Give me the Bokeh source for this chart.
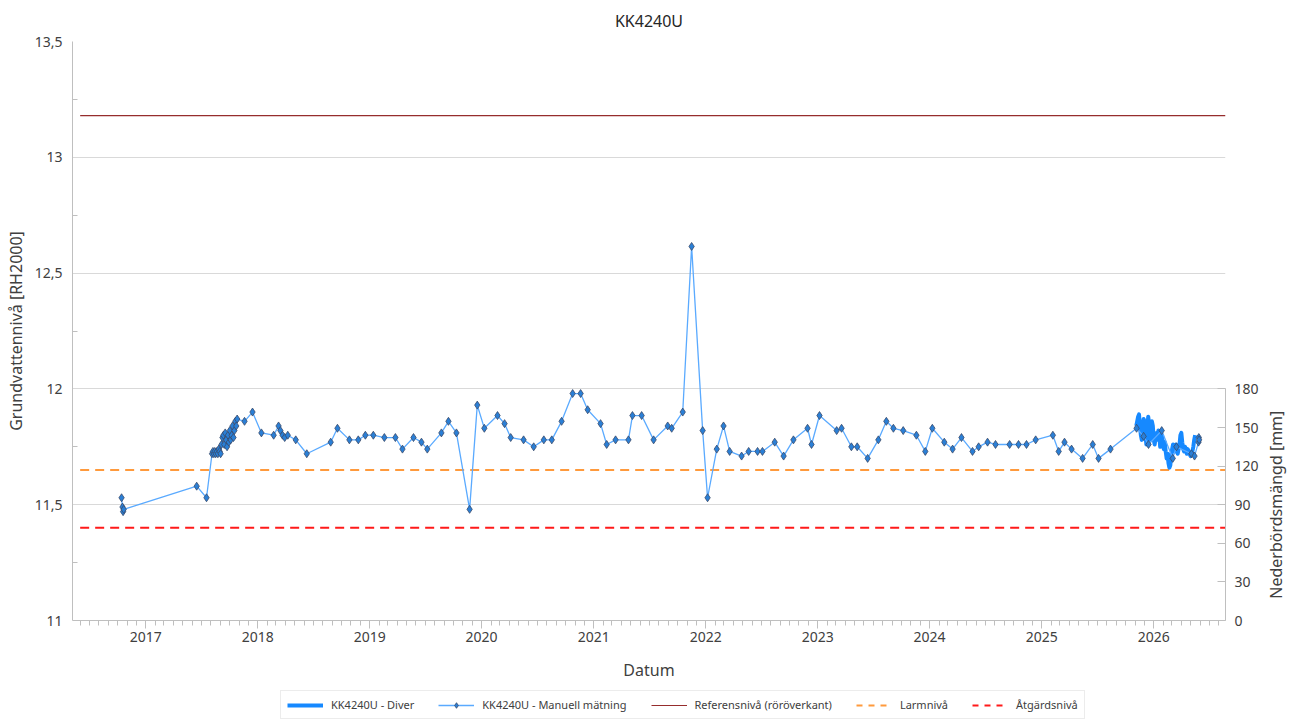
import math
import pandas as pd
from bokeh.plotting import figure
from bokeh.layouts import column, row
from bokeh.models import (Range1d, LinearAxis, FixedTicker, DatetimeTickFormatter,
                          Legend, LegendItem)
from bokeh.core.properties import value
from bokeh.embed import file_html
from bokeh.resources import INLINE

# ---------------- data ----------------
manual_dates = [
    "2016-10-14", "2016-10-17", "2016-10-19", "2016-10-21",
    "2017-06-16", "2017-07-18",
    "2017-08-05", "2017-08-08", "2017-08-11", "2017-08-14", "2017-08-17", "2017-08-21",
    "2017-08-24", "2017-08-27", "2017-08-30", "2017-09-02", "2017-09-05", "2017-09-08",
    "2017-09-11", "2017-09-14", "2017-09-17", "2017-09-20", "2017-09-23", "2017-09-26",
    "2017-09-29", "2017-10-02", "2017-10-05", "2017-10-08", "2017-10-11", "2017-10-14",
    "2017-10-17", "2017-10-20", "2017-10-23", "2017-10-26",
    "2017-11-19", "2017-12-15", "2018-01-13", "2018-02-22", "2018-03-10", "2018-03-16",
    "2018-03-23", "2018-03-30", "2018-04-09", "2018-05-05", "2018-06-10", "2018-08-27",
    "2018-09-18", "2018-10-27", "2018-11-25", "2018-12-18", "2019-01-13", "2019-02-18",
    "2019-03-26", "2019-04-18", "2019-05-24", "2019-06-19", "2019-07-08", "2019-08-23",
    "2019-09-15", "2019-10-11", "2019-11-23", "2019-12-18", "2020-01-10", "2020-02-22",
    "2020-03-16", "2020-04-05", "2020-05-17", "2020-06-19", "2020-07-22", "2020-08-17",
    "2020-09-18", "2020-10-24", "2020-11-19", "2020-12-12", "2021-01-23", "2021-02-12",
    "2021-03-13", "2021-04-24", "2021-05-07", "2021-06-06", "2021-07-15", "2021-08-30",
    "2021-09-12", "2021-10-18", "2021-11-16", "2021-12-22", "2022-01-07", "2022-02-06",
    "2022-02-28", "2022-03-20", "2022-04-28", "2022-05-21", "2022-06-19", "2022-07-05",
    "2022-08-14", "2022-09-12", "2022-10-14", "2022-11-29", "2022-12-12", "2023-01-07",
    "2023-03-04", "2023-03-20", "2023-04-21", "2023-05-10", "2023-06-13", "2023-07-18",
    "2023-08-13", "2023-09-05", "2023-10-07", "2023-11-19", "2023-12-18", "2024-01-10",
    "2024-02-18", "2024-03-16", "2024-04-14", "2024-05-20", "2024-06-09", "2024-07-08",
    "2024-08-03", "2024-09-18", "2024-10-17", "2024-11-12", "2024-12-12", "2025-02-06",
    "2025-02-25", "2025-03-16", "2025-04-08", "2025-05-14", "2025-06-16", "2025-07-05",
    "2025-08-13", "2025-11-06", "2025-11-29", "2025-12-15", "2026-01-27", "2026-03-04",
    "2026-03-16", "2026-05-04", "2026-05-14", "2026-05-27", "2026-05-28", "2026-05-29",
]
manual_levels = [
    11.53, 11.49, 11.47, 11.48,
    11.58, 11.53,
    11.72, 11.73, 11.72, 11.73, 11.72, 11.73,
    11.72, 11.74, 11.73, 11.72, 11.76, 11.79,
    11.80, 11.76, 11.81, 11.78, 11.75, 11.80,
    11.77, 11.82, 11.78, 11.80, 11.84, 11.79,
    11.82, 11.86, 11.84, 11.87,
    11.86, 11.90, 11.81, 11.80, 11.84, 11.82,
    11.80, 11.79, 11.80, 11.78, 11.72, 11.77,
    11.83, 11.78, 11.78, 11.80, 11.80, 11.79,
    11.79, 11.74, 11.79, 11.77, 11.74, 11.81,
    11.86, 11.81, 11.48, 11.93, 11.83, 11.885,
    11.85, 11.79, 11.78, 11.75, 11.78, 11.78,
    11.86, 11.98, 11.98, 11.91, 11.85, 11.76,
    11.78, 11.78, 11.885, 11.885, 11.78, 11.84,
    11.83, 11.90, 12.615, 11.82, 11.53, 11.74,
    11.84, 11.73, 11.71, 11.73, 11.73, 11.73,
    11.77, 11.71, 11.78, 11.83, 11.76, 11.885,
    11.82, 11.83, 11.75, 11.75, 11.70, 11.78,
    11.86, 11.83, 11.82, 11.80, 11.73, 11.83,
    11.77, 11.74, 11.79, 11.73, 11.75, 11.77,
    11.76, 11.76, 11.76, 11.76, 11.78, 11.80,
    11.73, 11.77, 11.74, 11.70, 11.76, 11.70,
    11.74, 11.83, 11.795, 11.76, 11.82, 11.70,
    11.75, 11.72, 11.71, 11.77, 11.79, 11.78,
]

diver_start = "2025-11-05"
diver_step = "3D"
diver_levels = [
    11.84, 11.86, 11.88, 11.89, 11.84, 11.80, 11.78, 11.82, 11.87, 11.86,
    11.80, 11.76, 11.83, 11.88, 11.85, 11.78, 11.80, 11.86, 11.84, 11.78,
    11.76, 11.79, 11.81, 11.78, 11.82, 11.80, 11.75, 11.77, 11.80, 11.76,
    11.74, 11.77, 11.73, 11.70, 11.72, 11.68, 11.66, 11.67, 11.71, 11.74,
    11.76, 11.75, 11.73, 11.76, 11.75, 11.72, 11.74, 11.76, 11.80, 11.81,
    11.77, 11.74, 11.73, 11.75, 11.74, 11.72, 11.74, 11.73, 11.72, 11.71,
    11.72, 11.73, 11.75, 11.78, 11.80,
]

ref_level = 13.18      # Referensnivå (röröverkant)
alarm_level = 11.65    # Larmnivå
action_level = 11.40   # Åtgärdsnivå
level_dates = ["2016-06-01", "2026-08-23"]

x_limits = ["2016-05-07", "2026-08-23"]
year_ticks = [2017, 2018, 2019, 2020, 2021, 2022, 2023, 2024, 2025, 2026]
left_ticks = [11.0, 11.5, 12.0, 12.5, 13.0, 13.5]
left_labels = ["11", "11,5", "12", "12,5", "13", "13,5"]
left_minor = [11.25, 11.75, 12.25, 12.75, 13.25]
right_ticks = [0, 30, 60, 90, 120, 150, 180]
right_title_text = "Nederbördsmängd [mm]"
right_title_level = 11.5

series_names = ["KK4240U - Diver", "KK4240U - Manuell mätning",
                "Referensnivå (röröverkant)", "Larmnivå", "Åtgärdsnivå"]

# ---------------- styles ----------------
FONT = "Noto Sans"
TXT = "#404040"
C_DIVER = "#1689ff"
C_MAN_LINE = "#5aaaff"
C_MAN_FILL = "#2a7fd6"
C_MAN_EDGE = "#3a4a6a"
C_REF = "#962d2d"
C_ALARM = "#ff9a3c"
C_ACTION = "#ff1a1a"


def ms(d):
    return pd.Timestamp(d).value // 10**6


x_dates = pd.to_datetime(manual_dates)
d_dates = pd.date_range(diver_start, periods=len(diver_levels), freq=diver_step)
lvl_dates = pd.to_datetime(level_dates)

y_range = Range1d(11, 13.5)

# ---------------- main figure ----------------
p = figure(width=1262, height=690, output_backend="svg", toolbar_location=None,
           x_axis_type="datetime",
           x_range=Range1d(ms(x_limits[0]), ms(x_limits[1])),
           y_range=y_range,
           min_border_left=72, min_border_right=37, min_border_top=41,
           min_border_bottom=70)
p.outline_line_color = None
p.background_fill_color = "white"
p.border_fill_color = "white"

p.title.text = "KK4240U"
p.title.align = "center"
p.title.vertical_align = "top"
p.title.text_font = FONT
p.title.text_font_size = "16px"
p.title.text_font_style = "normal"
p.title.text_color = "#262626"
p.title.standoff = 15

# x axis
xa = p.xaxis[0]
xa.ticker = FixedTicker(ticks=[ms(f"{y}-01-01") for y in year_ticks],
                        minor_ticks=[ms(d) for d in pd.date_range("2016-06-01", "2026-08-01", freq="MS")])
fmt = "%Y"
xa.formatter = DatetimeTickFormatter(years=fmt, months=fmt, days=fmt, hours=fmt,
                                     hourmin=fmt, minutes=fmt, minsec=fmt, seconds=fmt,
                                     milliseconds=fmt, microseconds=fmt)
xa.axis_label = "Datum"
xa.axis_line_color = "#bfbfbf"
xa.major_tick_line_color = "#bfbfbf"
xa.minor_tick_line_color = "#bfbfbf"
xa.major_tick_out = 8
xa.major_tick_in = 0
xa.minor_tick_out = 5
xa.minor_tick_in = 0
xa.major_label_standoff = 3
xa.axis_label_standoff = 14

# left y axis
ya = p.yaxis[0]
ya.ticker = FixedTicker(ticks=left_ticks, minor_ticks=left_minor)
ya.major_label_overrides = {t: l for t, l in zip(left_ticks, left_labels)}
ya.axis_label = "Grundvattennivå [RH2000]"
ya.axis_line_color = "#bfbfbf"
ya.major_tick_out = 0
ya.major_tick_in = 0
ya.minor_tick_in = 5
ya.minor_tick_out = 0
ya.minor_tick_line_color = "#bfbfbf"
ya.major_label_standoff = 10
ya.axis_label_standoff = 5

# right axis
p.extra_y_ranges = {"precip": Range1d(0, 450)}
ra = LinearAxis(y_range_name="precip", bounds=(0, 180),
                ticker=FixedTicker(ticks=right_ticks))
ra.axis_line_color = "#bfbfbf"
ra.major_tick_line_color = "#bfbfbf"
ra.major_tick_in = 8
ra.major_tick_out = 0
ra.minor_tick_line_color = None
ra.major_label_standoff = 9
p.add_layout(ra, "right")

for ax in (xa, ya, ra):
    ax.major_label_text_font = FONT
    ax.major_label_text_font_size = "14px"
    ax.major_label_text_color = TXT
    ax.axis_label_text_font = FONT
    ax.axis_label_text_font_size = "16px"
    ax.axis_label_text_font_style = "normal"
    ax.axis_label_text_color = TXT

p.xgrid.grid_line_color = None
p.ygrid.grid_line_color = "#d9d9d9"
p.ygrid.grid_line_width = 1

p.line(lvl_dates, [ref_level, ref_level], line_color=C_REF, line_width=1.2)
p.line(lvl_dates, [alarm_level, alarm_level], line_color=C_ALARM,
       line_width=2, line_dash="9 6")
p.line(lvl_dates, [action_level, action_level], line_color=C_ACTION,
       line_width=2, line_dash="9 6")
p.line(d_dates, diver_levels, line_color=C_DIVER, line_width=4, line_join="round")
p.line(x_dates, manual_levels, line_color=C_MAN_LINE, line_width=1.3)
p.scatter(x_dates, manual_levels, marker="diamond", size=8,
          fill_color=C_MAN_FILL, line_color=C_MAN_EDGE, line_width=0.8)

# ---------------- right strip with the secondary axis title ----------------
s = figure(width=41, height=690, output_backend="svg", toolbar_location=None,
           x_range=Range1d(0, 41), y_range=y_range,
           x_axis_location=None, y_axis_location=None,
           min_border_left=0, min_border_right=0, min_border_top=41,
           min_border_bottom=70)
s.outline_line_color = None
s.grid.grid_line_color = None
s.text(x=[13], y=[right_title_level], text=[right_title_text], angle=math.pi / 2,
       text_align="center", text_baseline="middle",
       text_font=value(FONT), text_font_size="16px", text_color=TXT)

# ---------------- legend strip ----------------
# one off-canvas point per renderer so that the legend swatches get a style row
lg = figure(width=1303, height=31, output_backend="svg", toolbar_location=None,
            x_range=Range1d(0, 1), y_range=Range1d(0, 1),
            x_axis_location=None, y_axis_location=None,
            min_border_left=0, min_border_right=0, min_border_top=0,
            min_border_bottom=0)
lg.outline_line_color = None
lg.grid.grid_line_color = None
off = [5]
l_diver = lg.line(off, off, line_color=C_DIVER, line_width=4)
l_man = lg.line(off, off, line_color=C_MAN_LINE, line_width=1.3)
l_man_pts = lg.scatter(off, off, marker="diamond", size=7,
                       fill_color=C_MAN_FILL, line_color=C_MAN_EDGE, line_width=0.8)
l_ref = lg.line(off, off, line_color=C_REF, line_width=1.2)
l_alarm = lg.line(off, off, line_color=C_ALARM, line_width=2, line_dash="6 6")
l_action = lg.line(off, off, line_color=C_ACTION, line_width=2, line_dash="6 6")

legend = Legend(items=[
    LegendItem(label=series_names[0], renderers=[l_diver]),
    LegendItem(label=series_names[1], renderers=[l_man, l_man_pts]),
    LegendItem(label=series_names[2], renderers=[l_ref]),
    LegendItem(label=series_names[3], renderers=[l_alarm]),
    LegendItem(label=series_names[4], renderers=[l_action]),
], orientation="horizontal", location=(280, 2))
legend.label_text_font = FONT
legend.label_text_font_size = "11px"
legend.label_text_color = TXT
legend.border_line_color = "#d9d9d9"
legend.background_fill_alpha = 1
legend.padding = 6
legend.margin = 0
legend.spacing = 24
legend.label_standoff = 8
legend.glyph_width = 36
legend.glyph_height = 14
lg.add_layout(legend, "center")

layout = column(row(p, s, spacing=0), lg, spacing=0)

open("out.html", "w").write(file_html(layout, INLINE))
